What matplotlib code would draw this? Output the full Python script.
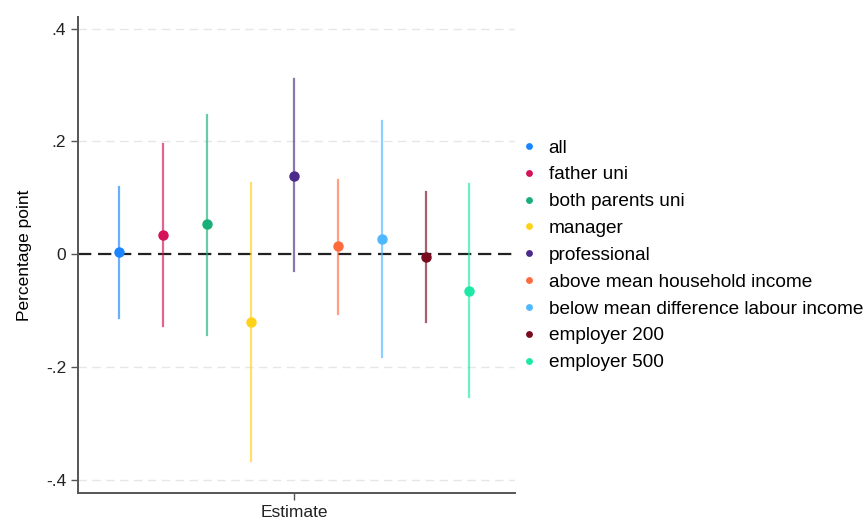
import numpy as np
import matplotlib.pyplot as plt

plt.rcParams['font.family'] = ['Liberation Sans', 'DejaVu Sans']

# Estimates and 95% confidence intervals (percentage point)
groups = ["all", "father uni", "both parents uni", "manager", "professional",
          "above mean household income", "below mean difference labour income",
          "employer 200", "employer 500"]
estimates = [0.004, 0.034, 0.053, -0.119, 0.138, 0.014, 0.028, -0.005, -0.064]
ci_low = [-0.113, -0.127, -0.143, -0.366, -0.030, -0.106, -0.182, -0.120, -0.253]
ci_high = [0.120, 0.195, 0.246, 0.127, 0.310, 0.131, 0.237, 0.110, 0.124]
colors = ["#1a85ff", "#d41159", "#1aaf78", "#ffd21a", "#4b2a8c",
          "#ff6a3d", "#4db8ff", "#7a0a1e", "#1de9a6"]

fig = plt.figure(figsize=(8.66, 5.23), dpi=100)
ax = fig.add_axes([0.090, 0.057, 0.505, 0.910])

n = len(groups)
offsets = 1 + (np.arange(n) - (n - 1) / 2) * 0.1

# reference gridlines and zero line
for yv in [-0.4, -0.2, 0.2, 0.4]:
    ax.axhline(yv, color="#e6e6e6", lw=1, ls=(0, (6, 4)), zorder=0)
ax.axhline(0, color="#222222", lw=1.6, ls=(0, (6, 3)), zorder=1)

for i in range(n):
    ax.plot([offsets[i], offsets[i]], [ci_low[i], ci_high[i]],
            color=colors[i], lw=1.6, alpha=0.65, zorder=2)
    ax.plot(offsets[i], estimates[i], "o", color=colors[i], ms=6.5, zorder=3,
            label=groups[i])

ax.set_xlim(0.505, 1.505)
ax.set_ylim(-0.423, 0.42)
ax.set_yticks([-0.4, -0.2, 0, 0.2, 0.4])
ax.set_yticklabels(["-.4", "-.2", "0", ".2", ".4"])
ax.set_xticks([1])
ax.set_xticklabels(["Estimate"])
ax.set_ylabel("Percentage point", fontsize=12.5, labelpad=10)

for side in ["top", "right"]:
    ax.spines[side].set_visible(False)
for side in ["left", "bottom"]:
    ax.spines[side].set_color("#555555")
    ax.spines[side].set_linewidth(1.4)
ax.tick_params(axis="both", colors="#555555", labelcolor="#222222",
               labelsize=12.5, length=5, width=1)

leg = ax.legend(loc="center left", bbox_to_anchor=(1.0, 0.5), frameon=False,
                fontsize=13.7, markerscale=0.6, handlelength=0.6,
                handletextpad=0.75, labelspacing=0.5, borderaxespad=0.0,
                borderpad=0.4)

fig.savefig("out.png", dpi=100)
